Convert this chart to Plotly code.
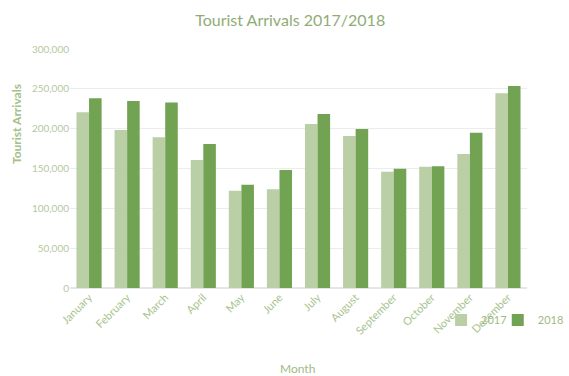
import plotly.graph_objects as go

months = ["January", "February", "March", "April", "May", "June", "July",
          "August", "September", "October", "November", "December"]
arrivals_2017 = [220500, 198300, 189100, 160700, 122100, 123800, 205900,
                 190800, 146000, 152300, 168200, 244300]
arrivals_2018 = [238100, 234700, 233000, 180700, 129700, 148100, 218400,
                 199600, 149800, 152700, 195000, 253600]
y_ticks = [0, 50000, 100000, 150000, 200000, 250000, 300000]
y_tick_labels = ["0", "50,000", "100,000", "150,000", "200,000", "250,000", "300,000"]

FONT = "Lato, sans-serif"
LIGHT = "#bacfa5"
DARK = "#72a353"
TXT = "#a8c38e"
LEG_FONT = dict(family=FONT, size=11, color="#9fba85")

fig = go.Figure()
fig.add_trace(go.Bar(name="2017", x=months, y=arrivals_2017, marker_color=LIGHT,
                     marker_line_width=0, legend="legend"))
fig.add_trace(go.Bar(name="2018", x=months, y=arrivals_2018, marker_color=DARK,
                     marker_line_width=0, legend="legend2"))

fig.update_layout(
    width=569, height=376,
    margin=dict(l=70, r=42, t=49, b=88, autoexpand=False),
    paper_bgcolor="white", plot_bgcolor="white",
    barmode="group", bargap=0.34, bargroupgap=0,
    font=dict(family=FONT, color=TXT, size=10),
    title=dict(text="Tourist Arrivals 2017/2018", x=0.51, xanchor="center",
               y=1 - 20 / 376, yanchor="middle",
               font=dict(family=FONT, size=16, color="#8fac76")),
    showlegend=True,
    legend=dict(orientation="h", x=0.812, xanchor="left", y=-0.134, yanchor="middle",
                font=LEG_FONT, bgcolor="rgba(0,0,0,0)", itemwidth=30),
    legend2=dict(orientation="h", x=0.936, xanchor="left", y=-0.134, yanchor="middle",
                 font=LEG_FONT, bgcolor="rgba(0,0,0,0)", itemwidth=30),
)
fig.update_xaxes(tickangle=-45, showgrid=False, showline=False, ticks="",
                 tickfont=dict(family=FONT, size=11, color=TXT))
fig.update_yaxes(range=[0, 300000], tickvals=y_ticks, ticktext=y_tick_labels,
                 showgrid=True, gridcolor="#ececec", gridwidth=1,
                 zeroline=True, zerolinecolor="#e6e6e6", showline=False, ticks="",
                 tickfont=dict(family=FONT, size=10, color="#b4c9a0"))

fig.add_annotation(text="<b>Tourist Arrivals</b>", xref="paper", yref="paper",
                   x=-0.118, y=0.686, xanchor="center", yanchor="middle",
                   textangle=-90, showarrow=False,
                   font=dict(family=FONT, size=12, color="#a5c08a"))
fig.add_annotation(text="Month", xref="paper", yref="paper",
                   x=0.497, y=-0.335, xanchor="center", yanchor="middle",
                   showarrow=False,
                   font=dict(family=FONT, size=12, color="#9fba85"))

fig.write_html("out.html")
